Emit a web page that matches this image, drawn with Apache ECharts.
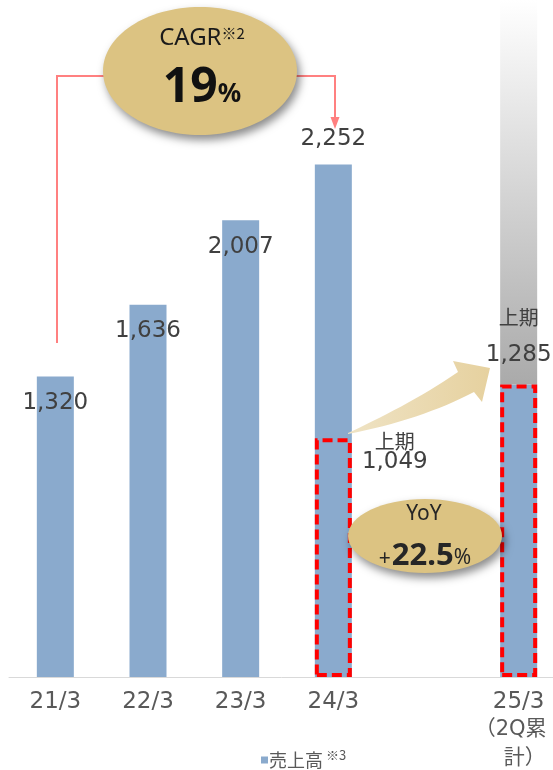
<!DOCTYPE html>
<html>
<head>
<meta charset="utf-8">
<script src="https://cdn.jsdelivr.net/npm/echarts@6/dist/echarts.min.js"></script>
<style>
html,body{margin:0;padding:0;background:#fff;}
#chart{width:553px;height:770px;}
</style>
</head>
<body>
<div id="chart"></div>
<script>
// data
var categories = ['21/3', '22/3', '23/3', '24/3', '', '25/3\n（2Q累\n計）'];
var sales = [1320, 1636, 2007, 2252, null, 1285];
var firstHalf = [null, null, null, 1049, null, 1285];
var fade = [null, null, null, null, null, 1690];
var cagr = '19';
var yoy = '22.5';

var numFont = 'DejaVu Sans';
var jpFont = 'Noto Sans CJK JP';
var bubbleFont = 'Noto Sans';
var fmt = function(v){ return Number(v).toLocaleString('en-US'); };

var chart = echarts.init(document.getElementById('chart'));

var salesData = sales.map(function(v, i){
	var item = {value: v};
	if (i < 3) {
		item.label = {position: 'insideTop', distance: 15};
	} else if (i === 5) {
		item.label = {show: false};
	}
	return item;
});

var boxData = firstHalf.map(function(v, i){
	if (v == null) return {value: null};
	var item = {value: v, label: {show: true}};
	if (i === 3) {
		item.label.position = [80, -7];
		item.label.align = 'center';
		item.label.verticalAlign = 'top';
		item.label.rich = {
			k: {fontSize: 20, lineHeight: 20, fontFamily: jpFont, color: '#404040'},
			v: {fontSize: 23, lineHeight: 22, fontFamily: numFont, color: '#404040'}
		};
	} else {
		item.label.position = 'top';
		item.label.distance = 17;
		item.label.rich = {
			k: {fontSize: 20, lineHeight: 48, fontFamily: jpFont, color: '#404040'},
			v: {fontSize: 23, lineHeight: 26, fontFamily: numFont, color: '#404040'}
		};
	}
	return item;
});

var option = {
	animation: false,
	grid: {left: 9, width: 556, top: 0, bottom: 93, outerBoundsMode: 'none', containLabel: false},
	legend: {
		data: ['売上高'],
		left: 256,
		top: 744,
		icon: 'rect',
		itemWidth: 7,
		itemHeight: 7,
		itemGap: 5,
		formatter: function(name){ return '{a|' + name + '}{b|※3}'; },
		textStyle: {
			rich: {
				a: {fontSize: 18, lineHeight: 22, color: '#595959', fontFamily: jpFont, padding: [0, 3, 0, -4]},
				b: {fontSize: 13, lineHeight: 22, color: '#595959', fontFamily: jpFont, verticalAlign: 'top'}
			}
		}
	},
	xAxis: {
		type: 'category',
		data: categories,
		axisLine: {lineStyle: {color: '#d9d9d9', width: 1}},
		axisTick: {show: false},
		axisLabel: {
			interval: 0,
			color: '#595959',
			fontSize: 23,
			fontFamily: numFont,
			lineHeight: 27,
			margin: 12,
			formatter: function(v){
				if (v.indexOf('\n') < 0) return v;
				var p = v.split('\n');
				return '{a|' + p[0] + '}\n{b|' + p[1] + '}\n{c|' + p[2] + '}';
			},
			rich: {
				a: {fontSize: 23, lineHeight: 27, fontFamily: numFont, color: '#595959'},
				b: {fontSize: 21, lineHeight: 27, fontFamily: numFont + ',' + jpFont, color: '#595959', padding: [0, 16, 0, 0]},
				c: {fontSize: 21, lineHeight: 27, fontFamily: jpFont, color: '#595959', padding: [0, 0, 0, 12]}
			}
		}
	},
	yAxis: {type: 'value', min: 0, max: 2975, show: false},
	series: [
		{
			name: '売上高',
			type: 'bar',
			stack: 'total',
			barWidth: 37,
			barGap: '-100%',
			itemStyle: {color: '#8aaacd'},
			label: {
				show: true,
				position: 'top',
				distance: 14,
				fontSize: 23,
				fontFamily: numFont,
				color: '#404040',
				formatter: function(p){ return fmt(p.value); }
			},
			data: salesData
		},
		{
			name: 'fade',
			type: 'bar',
			stack: 'total',
			barWidth: 37,
			barGap: '-100%',
			silent: true,
			itemStyle: {
				color: {
					type: 'linear', x: 0, y: 0, x2: 0, y2: 1,
					colorStops: [{offset: 0, color: '#ffffff'}, {offset: 1, color: '#aaaaaa'}]
				}
			},
			data: fade
		},
		{
			name: '上期',
			type: 'bar',
			barWidth: 37,
			barGap: '-100%',
			z: 5,
			itemStyle: {
				color: 'rgba(0,0,0,0)',
				borderColor: '#ff0000',
				borderWidth: 4,
				borderType: [10, 5]
			},
			label: {
				formatter: function(p){ return '{k|上期}\n{v|' + fmt(p.value) + '}'; }
			},
			data: boxData
		}
	]
};
chart.setOption(option);

// curved arrow outline, sampled from two cubic curves
function cubic(p0, p1, p2, p3, n){
	var pts = [];
	for (var i = 0; i <= n; i++) {
		var t = i / n, u = 1 - t;
		pts.push([
			u*u*u*p0[0] + 3*u*u*t*p1[0] + 3*u*t*t*p2[0] + t*t*t*p3[0],
			u*u*u*p0[1] + 3*u*u*t*p1[1] + 3*u*t*t*p2[1] + t*t*t*p3[1]
		]);
	}
	return pts;
}
var arrowPts = cubic([348, 433], [380, 418], [420, 398], [458, 372], 16)
	.concat([[453, 361], [490, 368], [482, 402]])
	.concat(cubic([474, 392], [440, 410], [395, 425], [348, 434], 16));

var gold = '#dcc382';
var shadow = {shadowBlur: 8, shadowOffsetX: 3, shadowOffsetY: 5, shadowColor: 'rgba(0,0,0,0.45)'};
chart.setOption({
	graphic: [
		{
			type: 'polyline', z: 50,
			shape: {points: [[57, 343], [57, 76], [335, 76], [335, 119]]},
			style: {stroke: '#ff8080', lineWidth: 2, fill: null}
		},
		{
			type: 'polygon', z: 50,
			shape: {points: [[330.5, 117], [339.5, 117], [335, 129]]},
			style: {fill: '#ff8080'}
		},
		{
			type: 'ellipse', z: 60,
			shape: {cx: 200, cy: 71, rx: 97, ry: 64},
			style: echarts.util.extend({fill: gold}, shadow)
		},
		{
			type: 'text', z: 61,
			style: {
				x: 202, y: 38, align: 'center', verticalAlign: 'middle',
				text: '{a|CAGR}{b|※2}',
				rich: {
					a: {fontSize: 24, fontFamily: bubbleFont, fill: '#1a1a1a'},
					b: {fontSize: 15, fontFamily: jpFont, fill: '#1a1a1a', verticalAlign: 'top'}
				}
			}
		},
		{
			type: 'text', z: 61,
			style: {
				x: 202, y: 88, align: 'center', verticalAlign: 'middle',
				text: '{a|' + cagr + '}{b|%}',
				rich: {
					a: {fontSize: 48, fontWeight: 'bold', fontFamily: bubbleFont, fill: '#111'},
					b: {fontSize: 26, fontWeight: 'bold', fontFamily: bubbleFont, fill: '#111', verticalAlign: 'bottom', padding: [0, 0, 4, 0]}
				}
			}
		},
		{
			type: 'polygon', z: 60,
			shape: {points: arrowPts},
			style: {
				fill: {
					type: 'linear', x: 0, y: 0, x2: 1, y2: 0,
					colorStops: [{offset: 0, color: '#efe3c4'}, {offset: 1, color: '#e6d19f'}]
				}
			}
		},
		{
			type: 'ellipse', z: 60,
			shape: {cx: 425, cy: 536, rx: 77, ry: 37},
			style: echarts.util.extend({fill: gold}, shadow)
		},
		{
			type: 'text', z: 61,
			style: {
				x: 424, y: 514, align: 'center', verticalAlign: 'middle',
				text: 'YoY', fontSize: 21, fontFamily: bubbleFont, fill: '#262626'
			}
		},
		{
			type: 'text', z: 61,
			style: {
				x: 425, y: 556, align: 'center', verticalAlign: 'middle',
				text: '{p|+}{a|' + yoy + '}{b|%}',
				rich: {
					p: {fontSize: 21, fontFamily: bubbleFont, fill: '#262626', verticalAlign: 'bottom', padding: [0, 1, 2, 0]},
					a: {fontSize: 31, fontWeight: 'bold', fontFamily: bubbleFont, fill: '#262626'},
					b: {fontSize: 21, fontFamily: bubbleFont, fill: '#262626', verticalAlign: 'bottom', padding: [0, 0, 3, 0]}
				}
			}
		}
	]
});
</script>
</body>
</html>
